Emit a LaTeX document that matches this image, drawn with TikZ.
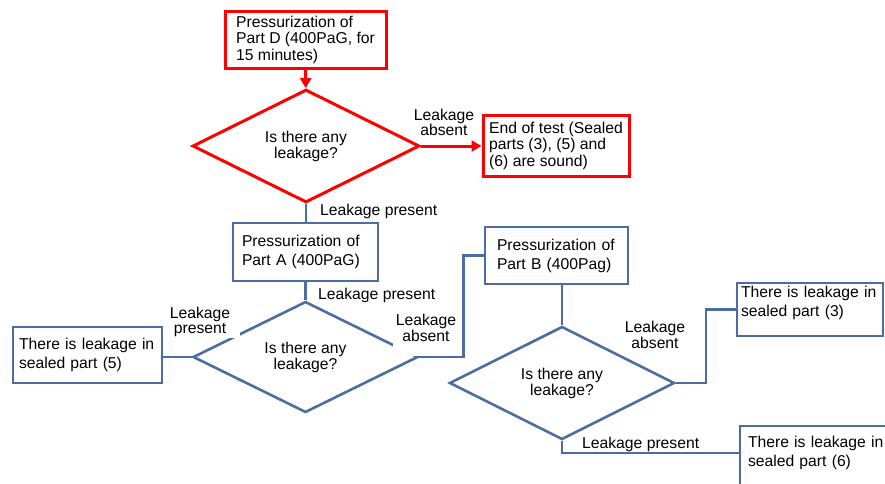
\documentclass[tikz,border=0pt]{standalone}
\usepackage{fontspec}
\setmainfont{Liberation Sans}
\usetikzlibrary{shapes.geometric,arrows.meta}
\definecolor{flowblue}{RGB}{74,110,160}
\definecolor{flowred}{RGB}{255,0,0}
\begin{document}
\begin{tikzpicture}[x=1pt,y=-1pt,
  every node/.style={font=\fontsize{15.7}{16.5}\selectfont},
  redbox/.style={rectangle, draw=flowred, line width=3pt, fill=white,
    inner ysep=0pt, align=left, font=\fontsize{15.7}{16.5}\selectfont},
  bluebox/.style={rectangle, draw=flowblue, line width=2.6pt, fill=white,
    inner ysep=0pt, align=left, font=\fontsize{15.7}{19}\selectfont},
  decision/.style={diamond, shape aspect=2, inner sep=0pt, align=center,
    font=\fontsize{15.7}{16}\selectfont},
  reddec/.style={decision, draw=flowred, line width=3pt},
  bluedec/.style={decision, draw=flowblue, line width=2.6pt},
  redline/.style={draw=flowred, line width=3pt},
  blueline/.style={draw=flowblue, line width=2.6pt},
  redarrow/.style={redline, -{Triangle[length=10pt,width=11pt]}},
  lbl/.style={inner sep=0pt, align=center, font=\fontsize{15.7}{15.5}\selectfont},
  patch/.style={fill=white, inner sep=0pt, anchor=north west},
]
\useasboundingbox (0,0) rectangle (885,483);

% --- decision chain, first stage (red) ---
\node[redbox, minimum width=161, minimum height=57]
  (pd) at (305.5,39.5) {Pressurization of\\Part D (400PaG, for\\15 minutes)};
\node[reddec, minimum width=227, minimum height=113]
  (q1) at (306,146) {Is there any\\leakage?};
\node[redbox, minimum width=146, minimum height=61]
  (end) at (556,145.5) {End of test (Sealed\\parts (3), (5) and\\(6) are sound)};

% --- part A stage ---
\node[bluebox, minimum width=145, minimum height=58, inner xsep=9, text width=127]
  (pa) at (305.5,252) {Pressurization of\\Part A (400PaG)};
\node[bluedec, minimum width=225, minimum height=111]
  (q2) at (305.5,357) {Is there any\\leakage?};
\node[bluebox, minimum width=149, minimum height=56, inner xsep=6, text width=137]
  (l5) at (87.5,355) {There is leakage in\\sealed part (5)};

% --- part B stage ---
\node[bluebox, minimum width=143, minimum height=57, inner xsep=12, text width=119]
  (pb) at (556.5,255.5) {Pressurization of\\Part B (400Pag)};
\node[bluedec, minimum width=225, minimum height=113]
  (q3) at (562,383) {Is there any\\leakage?};
\node[bluebox, minimum width=146, minimum height=53, inner xsep=4, text width=138,
  text depth=36pt]
  (l3) at (810,309.5) {There is leakage in\\sealed part (3)};
\node[bluebox, minimum width=155, minimum height=62, inner xsep=8, text width=139,
  text depth=31pt]
  (l6) at (817.5,457) {There is leakage in\\sealed part (6)};

% --- connectors ---
\draw[redarrow] (pd) -- (q1);
\draw[redarrow] (q1.east) -- (q1.east -| end.west);
\draw[blueline] (q1.south) -- (q1.south |- pa.north);
\draw[blueline] (pa) -- (q2);
\draw[blueline] (q2.west) -- (q2.west -| l5.east);
\draw[blueline] (q2.east) -- ++(44,0) |- (pb.west);
\draw[blueline] (pb.south -| q3.north) -- (q3.north);
\draw[blueline] (q3.east) -- ++(30,0) |- (l3.west);
\draw[blueline] (q3.south) |- ([yshift=4pt]l6.west);

% --- white text boxes behind two labels ---
\node[patch, minimum width=72, minimum height=33] (p4) at (168,305) {};
\node[patch, minimum width=64, minimum height=46] (p5) at (393,310) {};

% --- branch labels ---
\node[lbl] (la1) at (444,122.5) {Leakage\\absent};
\node[lbl, anchor=west] (la2) at (320,211) {Leakage present};
\node[lbl, anchor=west] (la3) at (318,295) {Leakage present};
\node[lbl] (la4) at (200,322) {Leakage\\present};
\node[lbl] (la5) at (426,328) {Leakage\\absent};
\node[lbl] (la6) at (655,335) {Leakage\\absent};
\node[lbl, anchor=west] (la7) at (582,444) {Leakage present};
\end{tikzpicture}
\end{document}
